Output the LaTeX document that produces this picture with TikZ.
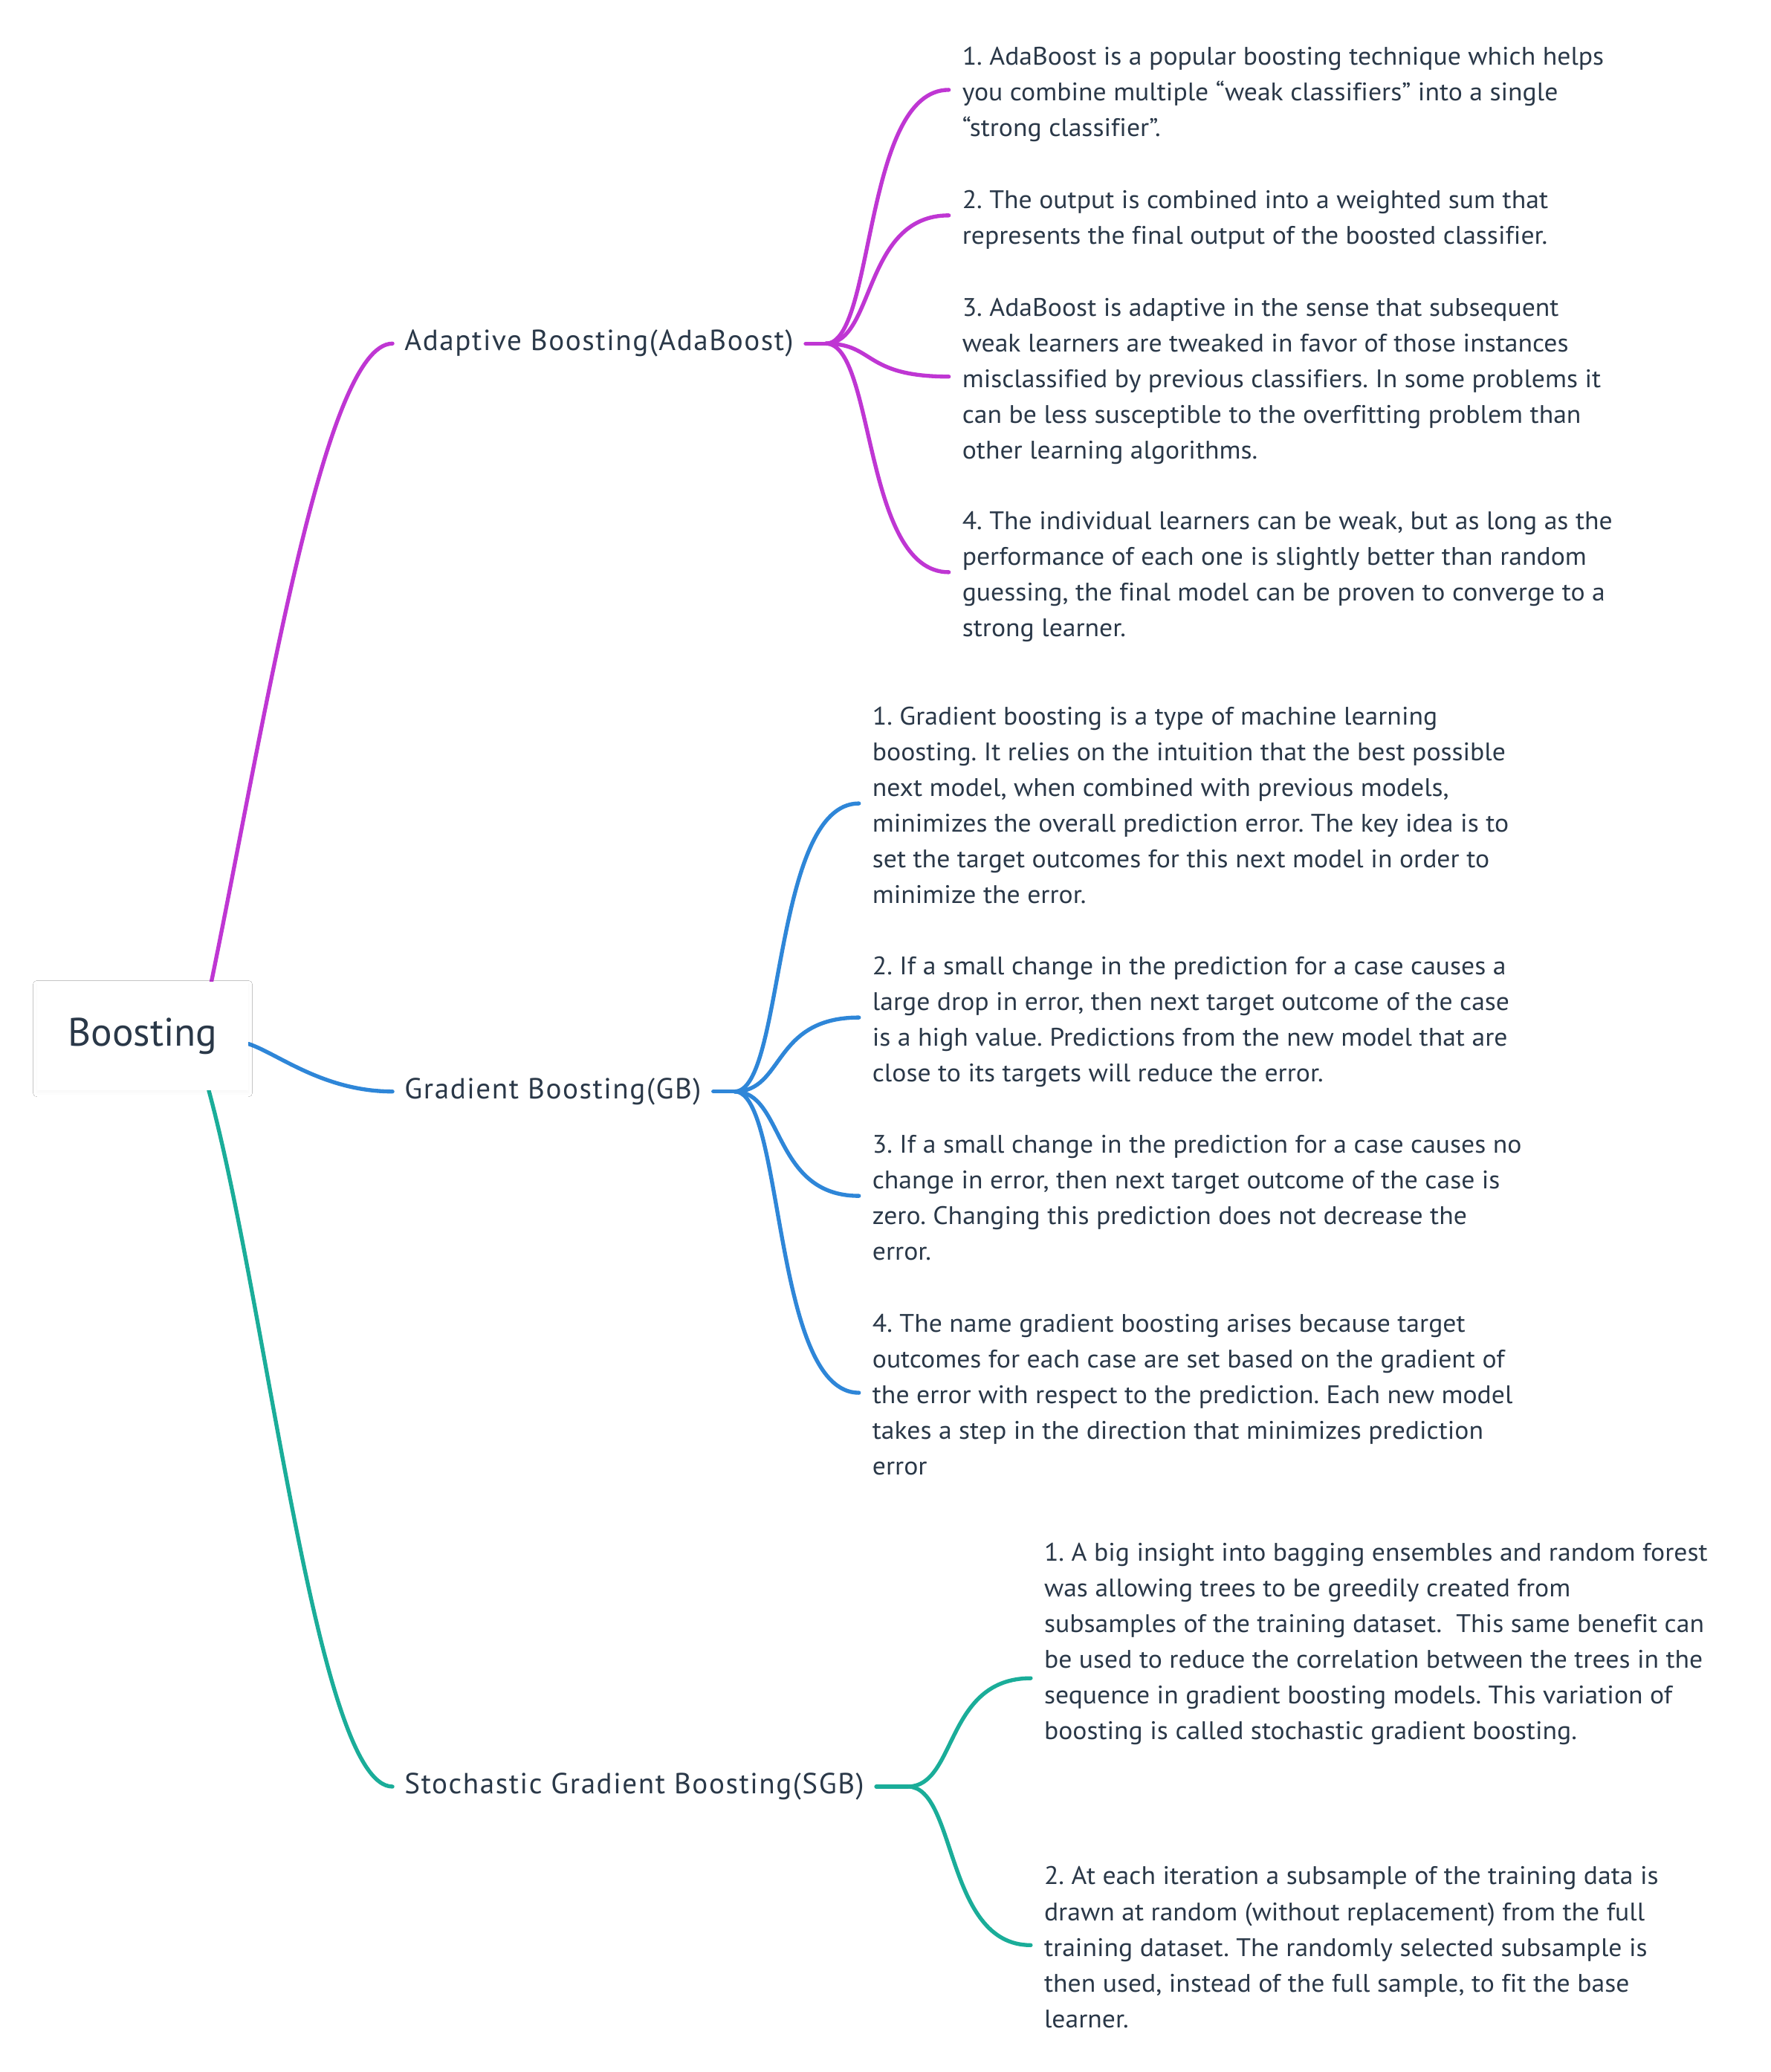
\documentclass[tikz,border=0pt]{standalone}
\usepackage{fontspec}
\newfontfamily\mmfont[Ligatures=NoCommon,FakeStretch=1.045]{PT Sans}
\newfontfamily\mmlbl[Ligatures=NoCommon,LetterSpace=4]{PT Sans}
\newfontfamily\mmroot[Ligatures=NoCommon]{PT Sans}
\usetikzlibrary{calc,backgrounds,shadows.blur}
\definecolor{txt}{HTML}{2A3848}
\definecolor{cpurple}{HTML}{BF36D3}
\definecolor{cblue}{HTML}{2E86D8}
\definecolor{cteal}{HTML}{1AAD99}
\newcommand\lbstrut{\rule[-5.5pt]{0pt}{35pt}}
\newcommand\fl{\rule{0pt}{22pt}}
\tikzset{
  conn/.style={line width=3pt, line cap=round},
  branch/.style n args={3}{to path={let \p1=(\tikztostart), \p2=(\tikztotarget) in
      .. controls ({\x1+#1*(\x2-\x1)},{\y1+#2*(\y2-\y1)}) and ({\x1+#3*(\x2-\x1)},\y2) .. (\tikztotarget)}},
  sub/.style={branch={0.4}{0}{0.3}},
  body/.style={anchor=west, align=left, inner xsep=10pt, inner ysep=0pt, text=txt,
      font=\mmfont\fontsize{19.2}{27}\selectfont\frenchspacing,
      execute at begin node=\lbstrut},
  lbl/.style={anchor=west, inner xsep=9pt, inner ysep=2pt, text=txt,
      font=\mmlbl\fontsize{22}{26}\selectfont},
  rootbox/.style={fill=white, minimum width=160pt, minimum height=82pt, text=txt,
      font=\mmroot\fontsize{30}{36}\selectfont,
      blur shadow={shadow xshift=0pt, shadow yshift=-2pt, shadow blur radius=3pt, shadow opacity=3}}
}
\begin{document}
\begin{tikzpicture}[x=1pt,y=-1pt]
\useasboundingbox (0,0) rectangle (1340,1568);
% nodes
\node[rootbox] (root) at (108,784) {Boosting};
\coordinate (rtop) at ($(root.north)+(52,0)$);
\coordinate (rright) at ($(root.east)+(0,6)$);
\coordinate (rbot) at ($(root.south)+(50,0)$);

\node[lbl] (ada) at (297,260) {Adaptive Boosting(AdaBoost)};
\node[lbl] (gb) at (297,826) {Gradient Boosting(GB)};
\node[lbl] (sgb) at (297,1352) {Stochastic Gradient Boosting(SGB)};

\coordinate (adah) at (625,260);
\coordinate (gbh) at (556,826);
\coordinate (sgbh) at (687,1352);

\node[body] (a1) at (718,68) {\fl 1. AdaBoost is a popular boosting technique which helps\\
you combine multiple “weak classifiers” into a single\\
“strong classifier”.};
\node[body] (a2) at (718,163) {\fl 2. The output is combined into a weighted sum that\\
represents the final output of the boosted classifier.};
\node[body] (a3) at (718,285) {\fl 3. AdaBoost is adaptive in the sense that subsequent\\
weak learners are tweaked in favor of those instances\\
misclassified by previous classifiers. In some problems it\\
can be less susceptible to the overfitting problem than\\
other learning algorithms.};
\node[body] (a4) at (718,433) {\fl 4. The individual learners can be weak, but as long as the\\
performance of each one is slightly better than random\\
guessing, the final model can be proven to converge to a\\
strong learner.};

\node[body] (g1) at (650,608) {\fl 1. Gradient boosting is a type of machine learning\\
boosting. It relies on the intuition that the best possible\\
next model, when combined with previous models,\\
minimizes the overall prediction error. The key idea is to\\
set the target outcomes for this next model in order to\\
minimize the error.};
\node[body] (g2) at (650,770) {\fl 2. If a small change in the prediction for a case causes a\\
large drop in error, then next target outcome of the case\\
is a high value. Predictions from the new model that are\\
close to its targets will reduce the error.};
\node[body] (g3) at (650,905) {\fl 3. If a small change in the prediction for a case causes no\\
change in error, then next target outcome of the case is\\
zero. Changing this prediction does not decrease the\\
error.};
\node[body] (g4) at (650,1054) {\fl 4. The name gradient boosting arises because target\\
outcomes for each case are set based on the gradient of\\
the error with respect to the prediction. Each new model\\
takes a step in the direction that minimizes prediction\\
error};

\node[body] (s1) at (780,1270) {\fl 1. A big insight into bagging ensembles and random forest\\
was allowing trees to be greedily created from\\
subsamples of the training dataset.\ \ This same benefit can\\
be used to reduce the correlation between the trees in the\\
sequence in gradient boosting models. This variation of\\
boosting is called stochastic gradient boosting.\\
\rule{0pt}{27pt}\\
\rule[-5.5pt]{0pt}{27pt}};
\node[body] (s2) at (780,1472) {\fl 2. At each iteration a subsample of the training data is\\
drawn at random (without replacement) from the full\\
training dataset. The randomly selected subsample is\\
then used, instead of the full sample, to fit the base\\
learner.};

\begin{scope}[on background layer]
\fill[white] (0,0) rectangle (1340,1568);
% main branches
\draw[conn,cpurple] (rtop) to[branch={0.29}{0.4}{0.62}] (ada.west);
\draw[conn,cblue] (rright) to[branch={0.2}{0.2}{0.52}] (gb.west);
\draw[conn,cteal] (rbot) to[branch={0.32}{0.31}{0.59}] (sgb.west);
% adaboost
\draw[conn,cpurple] (ada.east) -- (adah);
\draw[conn,cpurple] (adah) to[sub] (a1.west);
\draw[conn,cpurple] (adah) to[sub] (a2.west);
\draw[conn,cpurple] (adah) to[sub] (a3.west);
\draw[conn,cpurple] (adah) to[sub] (a4.west);
% gb
\draw[conn,cblue] (gb.east) -- (gbh);
\draw[conn,cblue] (gbh) to[sub] (g1.west);
\draw[conn,cblue] (gbh) to[sub] (g2.west);
\draw[conn,cblue] (gbh) to[sub] (g3.west);
\draw[conn,cblue] (gbh) to[sub] (g4.west);
% sgb
\draw[conn,cteal] (sgb.east) -- (sgbh);
\draw[conn,cteal] (sgbh) to[sub] (s1.west);
\draw[conn,cteal] (sgbh) to[sub] (s2.west);
\end{scope}
\end{tikzpicture}
\end{document}
